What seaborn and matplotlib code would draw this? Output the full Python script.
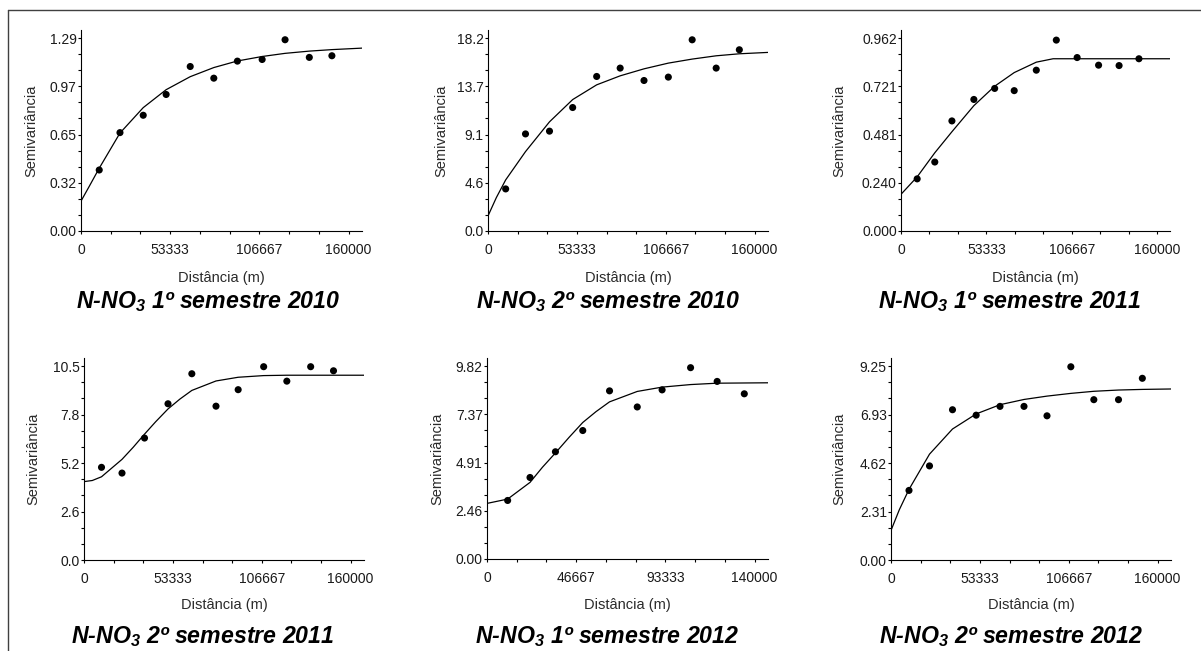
import matplotlib
matplotlib.use("Agg")
import numpy as np
import matplotlib.pyplot as plt
import seaborn as sns
from matplotlib.lines import Line2D
from matplotlib.ticker import FixedLocator

# experimental semivariogram points (lag distance in m, semivariance)
lag_1s2010 = [10900, 23300, 37200, 50900, 65300, 79400, 93500, 108300, 122000, 136500, 150000]
gam_1s2010 = [0.408, 0.658, 0.774, 0.913, 1.100, 1.022, 1.136, 1.147, 1.279, 1.161, 1.172]
lag_2s2010 = [10600, 22500, 36900, 50800, 65200, 79300, 93600, 108200, 122500, 136900, 150800]
gam_2s2010 = [3.97, 9.16, 9.42, 11.65, 14.58, 15.37, 14.20, 14.52, 18.04, 15.37, 17.10]
lag_1s2011 = [10100, 21100, 31800, 45500, 58500, 70700, 84500, 97000, 110000, 123400, 136200, 148600]
gam_1s2011 = [0.260, 0.344, 0.549, 0.656, 0.711, 0.700, 0.802, 0.952, 0.865, 0.827, 0.825, 0.859]
lag_2s2011 = [10500, 22800, 36300, 50400, 64700, 79200, 92500, 107800, 121700, 136000, 149700]
gam_2s2011 = [5.00, 4.69, 6.58, 8.43, 10.05, 8.30, 9.19, 10.43, 9.65, 10.43, 10.21]
lag_1s2012 = [10800, 22500, 35800, 50100, 64100, 78600, 91600, 106500, 120400, 134600]
gam_1s2012 = [2.98, 4.15, 5.46, 6.54, 8.56, 7.74, 8.61, 9.74, 9.04, 8.41]
lag_2s2012 = [10800, 23100, 36900, 51100, 65400, 79800, 93600, 107900, 121700, 136500, 150800]
gam_2s2012 = [3.32, 4.49, 7.17, 6.91, 7.33, 7.33, 6.88, 9.22, 7.65, 7.65, 8.67]

# fitted model curves
mx_1s2010 = [0, 5000, 10900, 23300, 37200, 50900, 65300, 79400, 93500, 108300, 122000, 136500, 150000, 168000]
my_1s2010 = [0.20, 0.30, 0.42, 0.655, 0.825, 0.945, 1.032, 1.093, 1.137, 1.167, 1.188, 1.203, 1.213, 1.223]
mx_2s2010 = [0, 5000, 10600, 22500, 36900, 50800, 65200, 79300, 93600, 108200, 122500, 136900, 150800, 168000]
my_2s2010 = [1.42, 3.15, 4.82, 7.49, 10.3, 12.4, 13.79, 14.64, 15.3, 15.84, 16.22, 16.53, 16.72, 16.85]
mx_1s2011 = [0, 10100, 21100, 31800, 45500, 58500, 70700, 84500, 95000, 168000]
my_1s2011 = [0.183, 0.27, 0.39, 0.495, 0.625, 0.722, 0.790, 0.842, 0.859, 0.859]
mx_2s2011 = [0, 5000, 10500, 22800, 29500, 36300, 43000, 50400, 57500, 64700, 79200, 92500, 107800, 121700, 168000]
my_2s2011 = [4.23, 4.29, 4.49, 5.43, 6.08, 6.79, 7.46, 8.15, 8.68, 9.15, 9.66, 9.86, 9.95, 9.97, 9.97]
mx_1s2012 = [0, 10800, 22500, 29000, 35800, 43000, 50100, 57000, 64100, 78600, 91600, 106500, 120400, 147000]
my_1s2012 = [2.83, 3.05, 3.90, 4.67, 5.40, 6.20, 6.95, 7.50, 8.00, 8.53, 8.75, 8.88, 8.95, 8.97]
mx_2s2012 = [0, 5000, 10800, 23100, 36900, 51100, 65400, 79800, 93600, 107900, 121700, 136500, 150800, 168000]
my_2s2012 = [1.41, 2.40, 3.37, 5.05, 6.25, 6.97, 7.41, 7.66, 7.82, 7.95, 8.05, 8.11, 8.14, 8.16]

# axis scales and tick labels
ytop = [1.29, 18.2, 0.962, 10.46, 9.82, 9.25]
ylabels = [
    ["0.00", "0.32", "0.65", "0.97", "1.29"],
    ["0.0", "4.6", "9.1", "13.7", "18.2"],
    ["0.000", "0.240", "0.481", "0.721", "0.962"],
    ["0.0", "2.6", "5.2", "7.8", "10.5"],
    ["0.00", "2.46", "4.91", "7.37", "9.82"],
    ["0.00", "2.31", "4.62", "6.93", "9.25"],
]
xtop = [160000, 160000, 160000, 160000, 140000, 160000]
xlabels = [
    ["0", "53333", "106667", "160000"],
    ["0", "53333", "106667", "160000"],
    ["0", "53333", "106667", "160000"],
    ["0", "53333", "106667", "160000"],
    ["0", "46667", "93333", "140000"],
    ["0", "53333", "106667", "160000"],
]
titles = [
    "N-NO$_3$ 1º semestre 2010",
    "N-NO$_3$ 2º semestre 2010",
    "N-NO$_3$ 1º semestre 2011",
    "N-NO$_3$ 2º semestre 2011",
    "N-NO$_3$ 1º semestre 2012",
    "N-NO$_3$ 2º semestre 2012",
]

points = [(lag_1s2010, gam_1s2010), (lag_2s2010, gam_2s2010), (lag_1s2011, gam_1s2011),
          (lag_2s2011, gam_2s2011), (lag_1s2012, gam_1s2012), (lag_2s2012, gam_2s2012)]
models = [(mx_1s2010, my_1s2010), (mx_2s2010, my_2s2010), (mx_1s2011, my_1s2011),
          (mx_2s2011, my_2s2011), (mx_1s2012, my_1s2012), (mx_2s2012, my_2s2012)]

sns.set_style("ticks")
plt.rcParams["font.family"] = ["Liberation Sans", "DejaVu Sans"]
plt.rcParams["mathtext.default"] = "regular"

W, H = 1201, 651
fig = plt.figure(figsize=(W / 100, H / 100), dpi=100)
fig.patch.set_facecolor("white")

# axes boxes in pixels: left, right, top, bottom
boxes = [(81, 362, 30, 231), (488, 768, 30, 231), (901, 1170, 30, 231),
         (84, 364, 358, 560), (487, 768, 358, 559), (891, 1171, 358, 560)]
ylab_dx = [-50, -47, -62, -51, -50, -51.5]
title_x = [208, 608, 1010, 203, 607, 1011]
title_base = [308, 308, 308, 643, 643, 643]
xlab_y = [278, 278, 278, 605, 605, 605]

for i in range(6):
    l, r, t, b = boxes[i]
    ax = fig.add_axes([l / W, 1 - b / H, (r - l) / W, (b - t) / H])
    ax.set_facecolor("white")

    sns.lineplot(x=models[i][0], y=models[i][1], ax=ax, color="black",
                 linewidth=0.9, sort=False, estimator=None)
    sns.scatterplot(x=points[i][0], y=points[i][1], ax=ax, color="black",
                    s=26, edgecolor="none", zorder=3)

    ax.set_xlim(0, xtop[i] * 1.05)
    ax.set_ylim(0, ytop[i] * 1.042)
    ax.xaxis.set_major_locator(FixedLocator(np.linspace(0, xtop[i], 4)))
    ax.xaxis.set_minor_locator(FixedLocator(np.linspace(0, xtop[i], 10)))
    ax.yaxis.set_major_locator(FixedLocator(np.linspace(0, ytop[i], 5)))
    ax.yaxis.set_minor_locator(FixedLocator(np.linspace(0, ytop[i], 13)))
    ax.set_xticklabels(xlabels[i])
    ax.set_yticklabels(ylabels[i])
    ax.tick_params(axis="both", which="both", direction="out", length=2.2,
                   width=0.8, color="black", labelsize=10, labelcolor="#1a1a1a")
    ax.tick_params(axis="x", which="major", pad=6.5)
    ax.tick_params(axis="y", which="major", pad=0.8)
    sns.despine(ax=ax)
    for s in ("left", "bottom"):
        ax.spines[s].set_linewidth(0.8)
        ax.spines[s].set_color("black")

    ax.set_xlabel("Distância (m)", fontsize=10.5, color="#2a2a2a")
    ax.set_ylabel("Semivariância", fontsize=10.5, color="#2a2a2a")
    ax.xaxis.set_label_coords(0.5, (b - xlab_y[i]) / (b - t))
    ax.xaxis.label.set_va("center")
    ax.yaxis.set_label_coords(ylab_dx[i] / (r - l), 0.5)
    ax.yaxis.label.set_va("center")

    fig.text(title_x[i] / W, 1 - title_base[i] / H, titles[i], ha="center",
             va="baseline", fontsize=16.7, fontweight="bold", fontstyle="italic",
             color="black")

# outer frame (top and left edges only are visible)
fig.add_artist(Line2D([8 / W, 1], [1 - 10 / H, 1 - 10 / H], color="#404040", linewidth=1.0))
fig.add_artist(Line2D([8 / W, 8 / W], [0, 1 - 10 / H], color="#404040", linewidth=1.0))

fig.savefig("out.png", dpi=100, facecolor="white")
